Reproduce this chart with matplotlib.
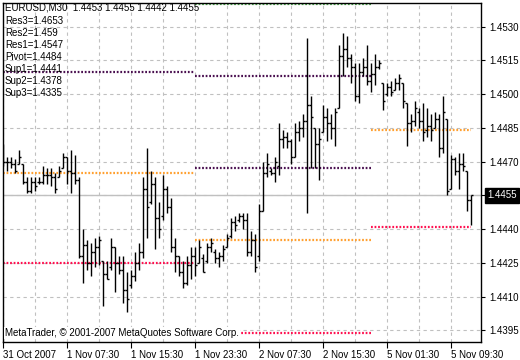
import matplotlib
matplotlib.use("Agg")
import matplotlib.pyplot as plt
import matplotlib.transforms as mtransforms

plt.rcParams['font.family'] = ['Liberation Sans', 'DejaVu Sans']

# EURUSD M30 bars, index 0 = 31 Oct 2007 23:30
opens = [
    1.4475, 1.4470, 1.4470, 1.4469, 1.4469, 1.4469, 1.4461, 1.4457, 1.4461, 1.4461,
    1.4461, 1.4464, 1.4464, 1.4463, 1.4463, 1.4467, 1.4472, 1.4466, 1.4465, 1.4462,
    1.4428, 1.4433, 1.4425, 1.4430, 1.4432, 1.4426, 1.4420, 1.4423, 1.4432, 1.4425,
    1.4422, 1.4413, 1.4415, 1.4419, 1.4425, 1.4430, 1.4458, 1.4452, 1.4460, 1.4445,
    1.4446, 1.4458, 1.4450, 1.4432, 1.4428, 1.4421, 1.4416, 1.4424, 1.4428, 1.4425,
    1.4427, 1.4426, 1.4432, 1.4430, 1.4427, 1.4428, 1.4432, 1.4437, 1.4443, 1.4444,
    1.4446, 1.4444, 1.4430, 1.4435, 1.4428, 1.4448, 1.4465, 1.4466, 1.4465, 1.4468,
    1.4480, 1.4481, 1.4479, 1.4472, 1.4483, 1.4485, 1.4488, 1.4495, 1.4485, 1.4478,
    1.4483, 1.4490, 1.4487, 1.4485, 1.4494, 1.4517, 1.4520, 1.4516, 1.4512, 1.4499,
    1.4510, 1.4512, 1.4506, 1.4509, 1.4512, 1.4505, 1.4500, 1.4503, 1.4502, 1.4505,
    1.4505, 1.4496, 1.4487, 1.4488, 1.4492, 1.4488, 1.4484, 1.4486, 1.4485, 1.4489,
    1.4476, 1.4489, 1.4458, 1.4471, 1.4466, 1.4469, 1.4466, 1.4453]
highs = [
    1.4478, 1.4472, 1.4472, 1.4471, 1.4475, 1.4469, 1.4463, 1.4463, 1.4463, 1.4463,
    1.4468, 1.4467, 1.4467, 1.4465, 1.4468, 1.4474, 1.4472, 1.4475, 1.4473, 1.4463,
    1.4440, 1.4435, 1.4434, 1.4436, 1.4437, 1.4426, 1.4426, 1.4436, 1.4432, 1.4428,
    1.4428, 1.4421, 1.4422, 1.4430, 1.4434, 1.4463, 1.4476, 1.4466, 1.4463, 1.4452,
    1.4464, 1.4459, 1.4454, 1.4436, 1.4428, 1.4426, 1.4428, 1.4432, 1.4432, 1.4435,
    1.4429, 1.4434, 1.4436, 1.4431, 1.4430, 1.4433, 1.4438, 1.4445, 1.4446, 1.4447,
    1.4447, 1.4447, 1.4439, 1.4438, 1.4451, 1.4470, 1.4474, 1.4467, 1.4472, 1.4487,
    1.4484, 1.4483, 1.4480, 1.4487, 1.4488, 1.4491, 1.4525, 1.4499, 1.4485, 1.4485,
    1.4495, 1.4494, 1.4491, 1.4494, 1.4522, 1.4527, 1.4526, 1.4518, 1.4514, 1.4514,
    1.4516, 1.4522, 1.4514, 1.4518, 1.4515, 1.4505, 1.4505, 1.4506, 1.4507, 1.4509,
    1.4505, 1.4496, 1.4491, 1.4497, 1.4494, 1.4496, 1.4494, 1.4491, 1.4492, 1.4491,
    1.4499, 1.4489, 1.4473, 1.4472, 1.4474, 1.4474, 1.4466, 1.4455]
lows = [
    1.4468, 1.4466, 1.4467, 1.4465, 1.4469, 1.4460, 1.4456, 1.4456, 1.4457, 1.4460,
    1.4460, 1.4460, 1.4459, 1.4456, 1.4463, 1.4467, 1.4460, 1.4456, 1.4460, 1.4427,
    1.4416, 1.4422, 1.4419, 1.4423, 1.4424, 1.4406, 1.4418, 1.4422, 1.4412, 1.4420,
    1.4407, 1.4403, 1.4414, 1.4417, 1.4422, 1.4427, 1.4436, 1.4451, 1.4431, 1.4436,
    1.4444, 1.4447, 1.4430, 1.4421, 1.4419, 1.4414, 1.4415, 1.4418, 1.4419, 1.4425,
    1.4421, 1.4425, 1.4430, 1.4425, 1.4423, 1.4426, 1.4432, 1.4436, 1.4439, 1.4443,
    1.4440, 1.4428, 1.4428, 1.4421, 1.4426, 1.4448, 1.4463, 1.4464, 1.4461, 1.4464,
    1.4476, 1.4476, 1.4469, 1.4472, 1.4479, 1.4481, 1.4447, 1.4467, 1.4467, 1.4462,
    1.4483, 1.4479, 1.4480, 1.4477, 1.4494, 1.4508, 1.4512, 1.4505, 1.4497, 1.4496,
    1.4508, 1.4504, 1.4501, 1.4504, 1.4511, 1.4493, 1.4499, 1.4499, 1.4502, 1.4502,
    1.4494, 1.4477, 1.4483, 1.4486, 1.4485, 1.4479, 1.4481, 1.4479, 1.4485, 1.4472,
    1.4474, 1.4455, 1.4458, 1.4464, 1.4458, 1.4466, 1.4448, 1.4442]
closes = [
    1.4470, 1.4470, 1.4469, 1.4466, 1.4472, 1.4461, 1.4457, 1.4461, 1.4459, 1.4461,
    1.4464, 1.4464, 1.4463, 1.4458, 1.4466, 1.4472, 1.4466, 1.4465, 1.4462, 1.4428,
    1.4433, 1.4425, 1.4430, 1.4432, 1.4435, 1.4420, 1.4418, 1.4432, 1.4425, 1.4422,
    1.4413, 1.4409, 1.4419, 1.4425, 1.4430, 1.4458, 1.4450, 1.4460, 1.4445, 1.4440,
    1.4458, 1.4450, 1.4432, 1.4428, 1.4421, 1.4416, 1.4424, 1.4428, 1.4424, 1.4432,
    1.4421, 1.4432, 1.4434, 1.4427, 1.4428, 1.4431, 1.4436, 1.4443, 1.4442, 1.4446,
    1.4444, 1.4430, 1.4435, 1.4423, 1.4448, 1.4465, 1.4469, 1.4465, 1.4470, 1.4480,
    1.4481, 1.4479, 1.4472, 1.4483, 1.4485, 1.4488, 1.4495, 1.4490, 1.4478, 1.4480,
    1.4490, 1.4487, 1.4485, 1.4492, 1.4517, 1.4520, 1.4516, 1.4512, 1.4499, 1.4510,
    1.4512, 1.4506, 1.4509, 1.4512, 1.4514, 1.4497, 1.4503, 1.4501, 1.4505, 1.4507,
    1.4497, 1.4487, 1.4488, 1.4494, 1.4488, 1.4483, 1.4486, 1.4484, 1.4489, 1.4476,
    1.4492, 1.4457, 1.4471, 1.4466, 1.4469, 1.4468, 1.4453, 1.4455]

# daily pivot levels (1 Nov, 2 Nov, 5 Nov), drawn from the previous day's last bar
seg_start = [0, 48, 92]
seg_end = [48, 92, 117]
res3 = [1.4595, 1.4540, 1.4653]
res2 = [1.4550, 1.4508, 1.4590]
res1 = [1.4510, 1.4467, 1.4547]
pivot = [1.4465, 1.4435, 1.4484]
sup1 = [1.4425, 1.4394, 1.4441]
sup2 = [1.4380, 1.4362, 1.4378]
sup3 = [1.4335, 1.4321, 1.4335]

xtick_pos = [0, 16, 32, 48, 64, 80, 96, 112]
xtick_labels = ["31 Oct 2007", "1 Nov 07:30", "1 Nov 15:30", "1 Nov 23:30",
                "2 Nov 07:30", "2 Nov 15:30", "5 Nov 01:30", "5 Nov 09:30"]
ytick_pos = [1.4395, 1.4410, 1.4425, 1.4440, 1.4455, 1.4470, 1.4485, 1.4500, 1.4515, 1.4530]
bid = 1.4455

fig = plt.figure(figsize=(5.2, 3.6), dpi=100)
ax = fig.add_axes([2.5 / 520, 18 / 360, (481 - 2.5) / 520, (342 - 2.5) / 360])
ax.set_xlim(-0.15, 119.5)
ax.set_ylim(1.43898, 1.45407)

# grid
ax.set_xticks(xtick_pos)
ax.set_xticks(range(8, 120, 8), minor=True)
ax.set_xticklabels(xtick_labels)
ax.set_yticks(ytick_pos)
# the bid box takes the place of the 1.4455 label
ax.set_yticklabels(["" if abs(v - bid) < 1e-7 else "%.4f" % v for v in ytick_pos])
ax.grid(True, which='both', color='#c0c0c0', linestyle=(0, (3, 3)), linewidth=0.8)
ax.set_axisbelow(True)
ax.yaxis.tick_right()
ax.tick_params(axis='y', direction='out', length=3, width=0.8, labelsize=7, pad=3)
ax.tick_params(axis='x', which='major', direction='out', length=4, width=0.8, labelsize=7, pad=2)
ax.tick_params(axis='x', which='minor', length=0)
for lab in ax.get_xticklabels():
    lab.set_ha('left')
for sp in ax.spines.values():
    sp.set_color('black')
    sp.set_linewidth(1.0)

# bid line
ax.axhline(bid, color='#c0c0c0', linewidth=1.0, zorder=1)

# pivot segments
levels = [(res3, '#40a040'), (res2, '#4a1050'), (res1, '#4a1050'), (pivot, '#ffa030'),
          (sup1, '#ff1050'), (sup2, '#30a0e0'), (sup3, '#30a0e0')]
for vals, col in levels:
    for s, e, v in zip(seg_start, seg_end, vals):
        ax.plot([s, e], [v, v], color=col, linewidth=1.6, linestyle=(0, (0.8, 0.8)),
                solid_capstyle='butt', dash_capstyle='butt', zorder=2)

# OHLC bars
idx = list(range(len(opens)))
ax.vlines(idx, lows, highs, color='black', linewidth=1.0, zorder=3)
ax.hlines(opens, [i - 0.4 for i in idx], idx, color='black', linewidth=1.0, zorder=3)
ax.hlines(closes, idx, [i + 0.4 for i in idx], color='black', linewidth=1.0, zorder=3)

# current price box
trans = mtransforms.blended_transform_factory(ax.transAxes, ax.transData)
ax.text(1.013, bid, "%.4f" % bid, transform=trans, ha='left', va='center', fontsize=7,
        color='white', bbox=dict(boxstyle='square,pad=0.25', fc='black', ec='black'), zorder=5)

# labels
fig.text(5 / 520, 1 - 7 / 360,
         "EURUSD,M30  %.4f %.4f %.4f %.4f" % (opens[-1], highs[-1], lows[-1], closes[-1]),
         fontsize=7, va='center', ha='left')
names = ["Res3", "Res2", "Res1", "Pivot", "Sup1", "Sup2", "Sup3"]
cur = [res3[-1], res2[-1], res1[-1], pivot[-1], sup1[-1], sup2[-1], sup3[-1]]
for k, (n, v) in enumerate(zip(names, cur)):
    fig.text(5 / 520, 1 - (21 + 12 * k) / 360, "%s=%s" % (n, ("%.4f" % v).rstrip('0')),
             fontsize=7, va='center', ha='left')
fig.text(5 / 520, 1 - 333 / 360, "MetaTrader, \u00a9 2001-2007 MetaQuotes Software Corp.",
         fontsize=7, va='center', ha='left',
         bbox=dict(boxstyle='square,pad=0.1', fc='white', ec='none'))

fig.savefig("out.png", dpi=100, facecolor='white')
